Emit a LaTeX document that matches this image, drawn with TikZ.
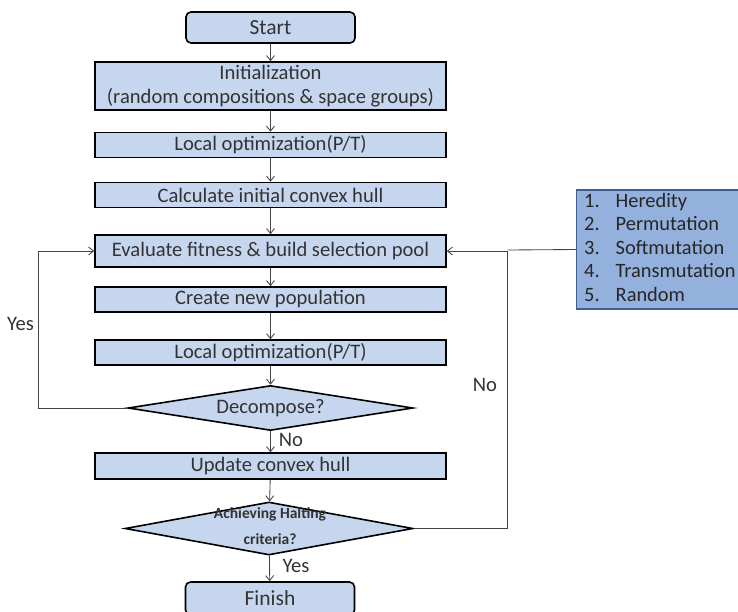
\documentclass[tikz,border=0pt]{standalone}
\usepackage{fontspec}
\setmainfont{Carlito}
\usetikzlibrary{shapes.geometric,arrows.meta}
\definecolor{boxfill}{HTML}{C6D6EE}
\definecolor{listfill}{HTML}{93B1DC}
\definecolor{listdraw}{HTML}{3F5F93}
\definecolor{txt}{HTML}{333333}
\definecolor{conn}{HTML}{444444}
\tikzset{
  procbox/.style={draw=black, line width=1.6pt, fill=boxfill, text=txt, font=\fontsize{20.6}{24}\selectfont, minimum width=351pt, inner sep=0pt, align=center},
  termbox/.style={draw=black, line width=1.6pt, fill=boxfill, text=txt, font=\fontsize{21.5}{24}\selectfont, rounded corners=5pt, minimum width=169pt, minimum height=31pt, inner sep=0pt},
  decbox/.style={draw=black, line width=1.6pt, fill=boxfill, diamond, inner sep=0pt},
  conn/.style={draw=conn, line width=0.85pt, -{Straight Barb[length=5pt,width=8pt]}},
  plain/.style={draw=conn, line width=0.85pt},
  lbl/.style={text=txt, font=\fontsize{20.6}{24}\selectfont, inner sep=0pt}
}
\begin{document}
\begin{tikzpicture}[x=1pt,y=-1pt]
\useasboundingbox (0,0) rectangle (738,611);
% nodes
\node[termbox] (start) at (270.5,27.5) {Start};
\node[procbox, minimum height=48pt, font=\fontsize{20.6}{23.5}\selectfont] (init) at (270.5,86) {Initialization\\(random compositions \& space groups)};
\node[procbox, minimum height=25pt] (lo1) at (270.5,145) {Local optimization(P/T)};
\node[procbox, minimum height=25pt] (calc) at (270.5,195) {Calculate initial convex hull};
\node[procbox, minimum height=32pt] (eval) at (270.5,251) {Evaluate fitness \& build selection pool};
\node[procbox, minimum height=25pt] (create) at (270.5,299.5) {Create new population};
\node[procbox, minimum height=25pt] (lo2) at (270.5,352.5) {Local optimization(P/T)};
\node[decbox, minimum width=285pt, minimum height=45pt] (dec) at (270.5,408) {};
\node[text=txt, inner sep=0pt, font=\fontsize{20.6}{24}\selectfont] (dectxt) at (270.5,408.5) {Decompose?};
\node[procbox, minimum height=26pt] (upd) at (270.5,466) {Update convex hull};
\node[decbox, minimum width=288pt, minimum height=53pt] (halt) at (269,528.5) {};
\node[text=txt, inner sep=0pt, align=center, font=\bfseries\fontsize{15.5}{26.5}\selectfont] (halttxt) at (270,526) {Achieving Halting\\criteria?};
\node[termbox, minimum height=33pt] (fin) at (270,598.5) {Finish};
\node[draw=listdraw, line width=1.2pt, fill=listfill, minimum width=166pt, minimum height=119pt, inner sep=0pt, anchor=west] (list) at (576,249.5) {};
\node[anchor=north west, inner sep=0pt, text=black!85, font=\fontsize{20.4}{23.4}\selectfont] (listtxt) at (584,191) {%
\begin{tabular}{@{}l@{\hspace{16pt}}l@{}}
1. & Heredity\\
2. & Permutation\\
3. & Softmutation\\
4. & Transmutation\\
5. & Random
\end{tabular}};
% labels
\node[lbl] (yes1) at (20.5,324) {Yes};
\node[lbl] (no1) at (485,385) {No};
\node[lbl] (no2) at (291,440) {No};
\node[lbl] (yes2) at (296,566) {Yes};
% coordinates
\coordinate (yl) at (38.5,408);
\coordinate (nl) at (507.5,528.5);
\coordinate (nj) at (507.5,250);
% connectors
\draw[conn] (start) -- (init);
\draw[conn] (init) -- (lo1);
\draw[conn] (lo1) -- (calc);
\draw[conn] (calc) -- (eval);
\draw[conn] (eval) -- (create);
\draw[conn] (create) -- (lo2);
\draw[conn] (lo2) -- (dec);
\draw[conn] (dec) -- (upd);
\draw[conn] (upd) -- (halt);
\draw[conn] (halt) -- (fin);
\draw[conn] (dec.west) -- (yl) |- (eval.west);
\draw[conn] (halt.east) -- (nl) |- (eval.east);
\draw[plain] (list.west) -- (nj);
\end{tikzpicture}
\end{document}
